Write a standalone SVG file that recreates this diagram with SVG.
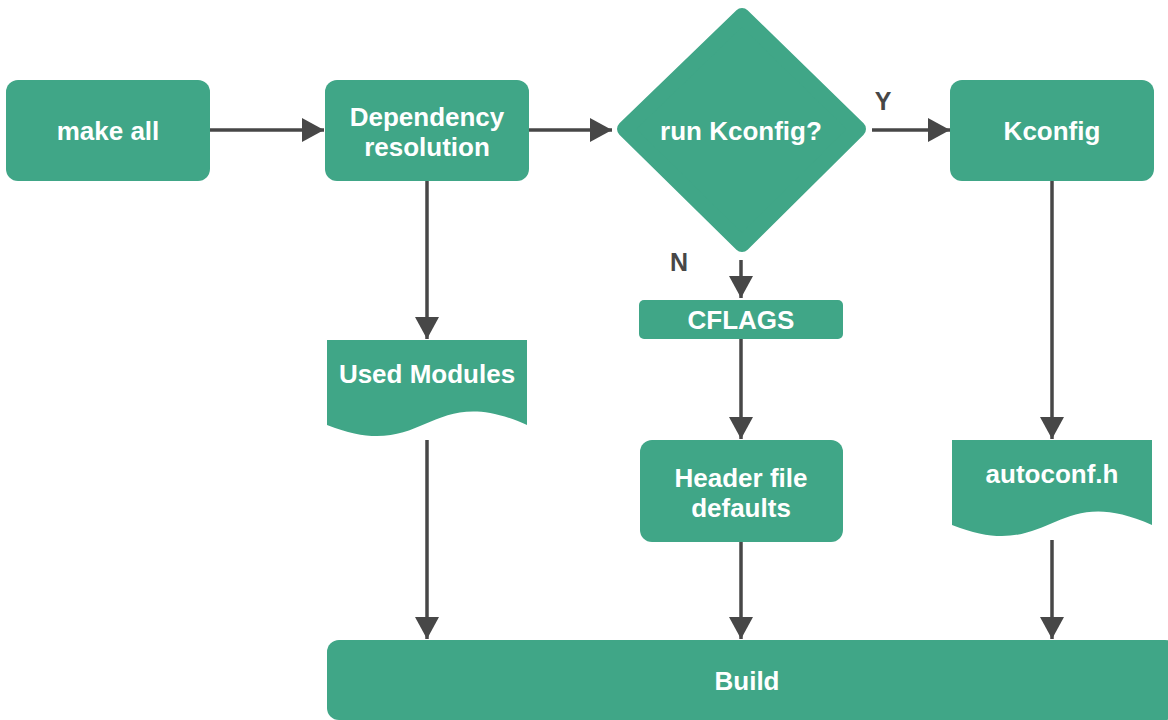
<svg xmlns="http://www.w3.org/2000/svg" width="1168" height="720" viewBox="0 0 1168 720">
  <defs>
    <style>
      .box { fill: #40a687; }
      .diamond { fill: #40a687; stroke: #40a687; stroke-width: 16; stroke-linejoin: round; }
      .label { font-family: "Liberation Sans", Arial, sans-serif; font-weight: bold; font-size: 26px; fill: #ffffff; text-anchor: middle; }
      .tag { font-family: "Liberation Sans", Arial, sans-serif; font-weight: bold; font-size: 25px; fill: #474747; text-anchor: middle; }
      .edge { stroke: #474747; stroke-width: 3.5; fill: none; marker-end: url(#head); }
    </style>
    <marker id="head" viewBox="0 0 22 24" refX="22" refY="12" markerWidth="22" markerHeight="24" markerUnits="userSpaceOnUse" orient="auto">
      <path d="M0,0 L22,12 L0,24 Z" fill="#474747"/>
    </marker>
  </defs>

  <rect width="1168" height="720" fill="#ffffff"/>

  <!-- connectors -->
  <g id="connectors">
    <line class="edge" x1="210" y1="130" x2="324" y2="130"/>
    <line class="edge" x1="529" y1="130" x2="612" y2="130"/>
    <line class="edge" x1="872" y1="130" x2="950" y2="130"/>
    <line class="edge" x1="741" y1="260" x2="741" y2="298"/>
    <line class="edge" x1="741" y1="339" x2="741" y2="439"/>
    <line class="edge" x1="741" y1="542" x2="741" y2="639"/>
    <line class="edge" x1="427" y1="181" x2="427" y2="339"/>
    <line class="edge" x1="427" y1="440" x2="427" y2="639"/>
    <line class="edge" x1="1052" y1="181" x2="1052" y2="439"/>
    <line class="edge" x1="1052" y1="540" x2="1052" y2="639"/>
  </g>

  <!-- decision labels -->
  <text class="tag" x="883" y="110">Y</text>
  <text class="tag" x="679" y="271">N</text>

  <g id="make-all">
    <rect class="box" x="6" y="80" width="204" height="101" rx="12"/>
    <text class="label" x="108" y="140">make all</text>
  </g>

  <g id="dependency-resolution">
    <rect class="box" x="325" y="80" width="204" height="101" rx="12"/>
    <text class="label" x="427" y="126">Dependency</text>
    <text class="label" x="427" y="156">resolution</text>
  </g>

  <g id="run-kconfig">
    <polygon class="diamond" points="742,16 858,129 742,244 625,129"/>
    <text class="label" x="741" y="140">run Kconfig?</text>
  </g>

  <g id="kconfig">
    <rect class="box" x="950" y="80" width="204" height="101" rx="12"/>
    <text class="label" x="1052" y="140">Kconfig</text>
  </g>

  <g id="cflags">
    <rect class="box" x="639" y="300" width="204" height="39" rx="5"/>
    <text class="label" x="741" y="329">CFLAGS</text>
  </g>

  <g id="header-defaults">
    <rect class="box" x="640" y="440" width="203" height="102" rx="12"/>
    <text class="label" x="741" y="487">Header file</text>
    <text class="label" x="741" y="517">defaults</text>
  </g>

  <g id="used-modules">
    <path class="box" d="M327,340 H527 V425 C427,380 427,465 327,425 Z"/>
    <text class="label" x="427" y="383">Used Modules</text>
  </g>

  <g id="autoconf">
    <path class="box" d="M952,440 H1152 V525 C1052,480 1052,565 952,525 Z"/>
    <text class="label" x="1052" y="483">autoconf.h</text>
  </g>

  <g id="build">
    <rect class="box" x="327" y="640" width="850" height="80" rx="12"/>
    <text class="label" x="747" y="690">Build</text>
  </g>
</svg>
